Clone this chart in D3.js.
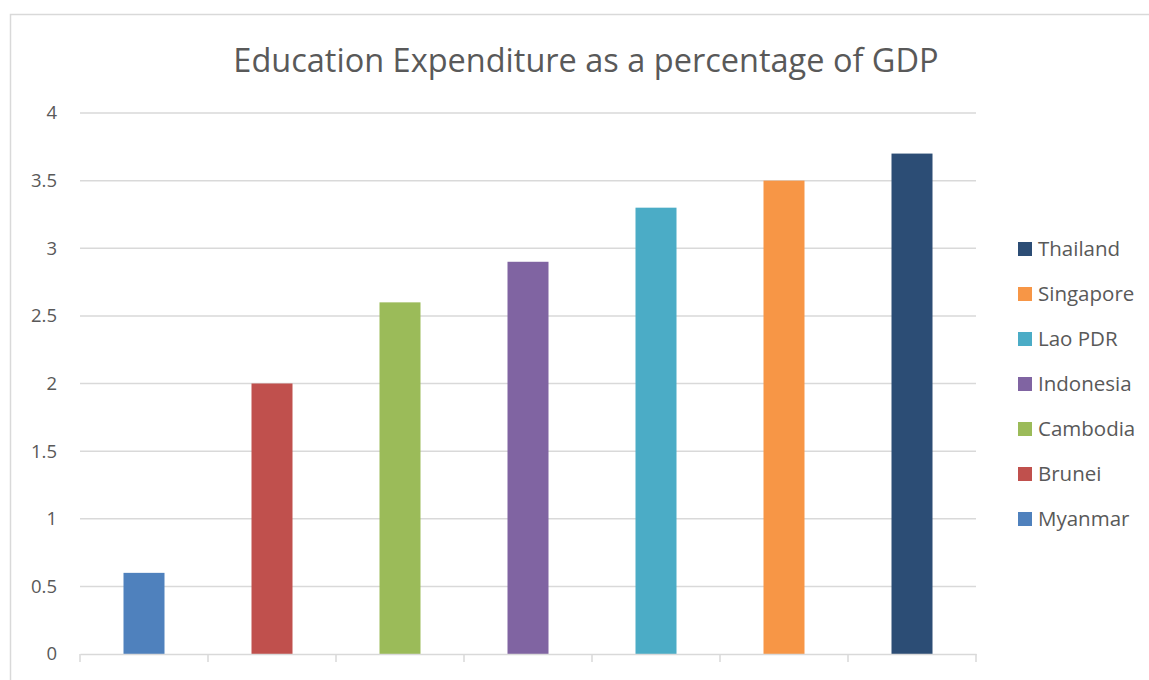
<!DOCTYPE html>
<html>
<head>
<meta charset="utf-8">
<script src="https://cdn.jsdelivr.net/npm/d3@7"></script>
<style>
  body { margin: 0; background: #fff; }
  text { font-family: "Open Sans", sans-serif; fill: #595959; }
</style>
</head>
<body>
<div id="chart"></div>
<script>
// Data
var countries = ["Myanmar", "Brunei", "Cambodia", "Indonesia", "Lao PDR", "Singapore", "Thailand"];
var values = [0.6, 2.0, 2.6, 2.9, 3.3, 3.5, 3.7];
var colors = ["#4f81bd", "#c0504d", "#9bbb59", "#8064a2", "#4bacc6", "#f79646", "#2c4d75"];
var yTicks = [0, 0.5, 1, 1.5, 2, 2.5, 3, 3.5, 4];

var svgWidth = 1149;
var svgHeight = 680;

var margin = { top: 113, right: 173, bottom: 26, left: 80 };
var width = svgWidth - margin.left - margin.right;
var height = svgHeight - margin.top - margin.bottom;

var svg = d3.select("#chart")
    .append("svg")
    .attr("width", svgWidth)
    .attr("height", svgHeight);

// chart border (runs off the right and bottom edges)
svg.append("rect")
    .attr("x", 10.5)
    .attr("y", 14.5)
    .attr("width", svgWidth + 20)
    .attr("height", svgHeight + 20)
    .attr("fill", "none")
    .attr("stroke", "#d9d9d9")
    .attr("stroke-width", 1.5);

// title
svg.append("text")
    .attr("x", 586)
    .attr("y", 72)
    .attr("text-anchor", "middle")
    .style("font-size", "32.5px")
    .text("Education Expenditure as a percentage of GDP");

var chartGroup = svg.append("g")
    .attr("transform", `translate(${margin.left}, ${margin.top})`);

var xScale = d3.scaleBand()
    .domain(countries)
    .range([0, width]);

var yScale = d3.scaleLinear()
    .domain([0, 4])
    .range([height, 0]);

// gridlines
chartGroup.append("g")
    .selectAll("line")
    .data(yTicks.filter(d => d > 0))
    .enter()
    .append("line")
    .attr("x1", 0)
    .attr("x2", width)
    .attr("y1", d => yScale(d))
    .attr("y2", d => yScale(d))
    .attr("stroke", "#d9d9d9")
    .attr("stroke-width", 1.5);

// y axis labels
var leftAxis = d3.axisLeft(yScale)
    .tickValues(yTicks)
    .tickSize(0)
    .tickPadding(23)
    .tickFormat(d3.format("~g"));

var yAxis = chartGroup.append("g").call(leftAxis);
yAxis.select(".domain").remove();
yAxis.selectAll("text")
    .style("font-size", "18.5px")
    .attr("fill", "#595959");

// bars
chartGroup.selectAll("rect.bar")
    .data(values)
    .enter()
    .append("rect")
    .attr("class", "bar")
    .attr("x", (d, i) => xScale(countries[i]) + xScale.bandwidth() / 2 - 20.5)
    .attr("width", 41)
    .attr("y", d => yScale(d))
    .attr("height", d => height - yScale(d))
    .attr("fill", (d, i) => colors[i]);

// x axis line with category ticks
var bottomAxis = d3.axisBottom(xScale)
    .tickValues([])
    .tickSizeOuter(0);

var xAxis = chartGroup.append("g")
    .attr("transform", `translate(0, ${height})`)
    .call(bottomAxis);
xAxis.select(".domain")
    .attr("stroke", "#d9d9d9")
    .attr("stroke-width", 1.5);

var boundaries = countries.map(c => xScale(c)).concat([width]);
xAxis.selectAll("line.cat")
    .data(boundaries)
    .enter()
    .append("line")
    .attr("class", "cat")
    .attr("x1", d => d)
    .attr("x2", d => d)
    .attr("y1", 0)
    .attr("y2", 8)
    .attr("stroke", "#d9d9d9")
    .attr("stroke-width", 1.5);

// legend (reversed order)
var legendItems = countries.map((c, i) => ({ name: c, color: colors[i] })).reverse();

var legend = svg.append("g")
    .attr("transform", "translate(1018, 242)");

var rows = legend.selectAll("g")
    .data(legendItems)
    .enter()
    .append("g")
    .attr("transform", (d, i) => `translate(0, ${i * 45})`);

rows.append("rect")
    .attr("width", 14)
    .attr("height", 14)
    .attr("fill", d => d.color);

rows.append("text")
    .attr("x", 20)
    .attr("y", 14)
    .style("font-size", "20.5px")
    .text(d => d.name);
</script>
</body>
</html>
